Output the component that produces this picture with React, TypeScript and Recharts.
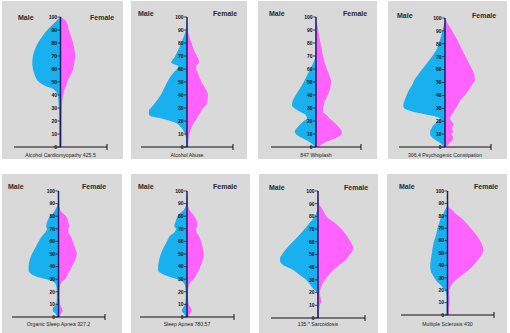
import React from "react"
import { ComposedChart, Area, XAxis, YAxis, ReferenceLine } from "recharts"

const BLUE = "#18B0EE"
const PINK = "#FF62FF"
const AXIS = "#1E2060"
const PANEL_BG = "#D9D9D9"
const SPAN = 140
const ageTicks = [0, 10, 20, 30, 40, 50, 60, 70, 80, 90, 100]

// widths (arbitrary units, full half-width = 140)
const cardioAges = [0, 10, 20, 30, 35, 40, 42, 45, 47, 50, 55, 60, 65, 70, 75, 80, 85, 90, 95, 98, 100]
const cardioMale = [4, 4, 4, 5, 6, 8, 12, 25, 45, 65, 77, 83, 85, 83, 77, 68, 55, 40, 20, 8, 0]
const cardioFemale = [3, 3, 3, 4, 5, 8, 10, 13, 17, 20, 30, 38, 42, 44, 42, 38, 32, 25, 20, 12, 0]

const abuseAges = [0, 5, 10, 15, 19, 22, 24, 26, 28, 30, 33, 40, 45, 50, 55, 58, 62, 65, 69, 74, 80, 85, 90, 95, 100]
const abuseMale = [2, 2, 6, 18, 38, 78, 113, 116, 116, 110, 100, 80, 70, 60, 48, 38, 26, 48, 38, 28, 18, 10, 3, 1, 0]
const abuseFemale = [3, 4, 7, 14, 22, 30, 34, 40, 44, 50, 60, 64, 56, 44, 36, 31, 27, 37, 32, 22, 14, 7, 2, 1, 0]

const whiplashAges = [0, 2, 5, 7, 10, 12, 15, 20, 22, 25, 27, 30, 32, 35, 40, 45, 50, 55, 60, 65, 70, 75, 80, 85, 90, 95, 100]
const whiplashMale = [3, 10, 28, 43, 63, 66, 58, 38, 28, 33, 48, 68, 75, 73, 63, 50, 38, 28, 18, 8, 2, 2, 2, 2, 2, 2, 0]
const whiplashFemale = [7, 17, 42, 62, 80, 80, 72, 52, 42, 32, 22, 22, 24, 27, 37, 44, 47, 42, 34, 27, 22, 18, 14, 10, 7, 3, 0]

const constipAges = [0, 2, 4, 7, 10, 12, 15, 17, 20, 22, 24, 26, 28, 30, 32, 36, 40, 44, 48, 52, 56, 60, 65, 70, 75, 80, 85, 90, 95, 98, 100]
const constipMale = [2, 10, 20, 37, 45, 45, 40, 35, 22, 15, 35, 72, 105, 124, 127, 123, 117, 110, 100, 93, 82, 70, 55, 40, 27, 19, 13, 8, 3, 1, 0]
const constipFemale = [5, 10, 18, 25, 20, 25, 20, 27, 20, 15, 18, 22, 28, 33, 38, 46, 60, 72, 82, 91, 89, 83, 73, 63, 53, 43, 33, 22, 10, 3, 0]

const organicAges = [0, 3, 5, 7, 10, 15, 20, 25, 28, 30, 32, 35, 37, 40, 45, 50, 55, 60, 65, 67, 70, 72, 75, 80, 82, 85, 90, 95, 100]
const organicMale = [3, 10, 17, 17, 7, 5, 5, 7, 15, 35, 65, 85, 90, 90, 87, 80, 70, 60, 47, 40, 35, 37, 35, 25, 18, 10, 2, 1, 0]
const organicFemale = [3, 8, 13, 10, 5, 3, 3, 5, 10, 20, 25, 30, 35, 40, 50, 55, 50, 43, 35, 30, 30, 33, 30, 23, 15, 5, 2, 1, 0]

const apneaAges = [0, 3, 5, 7, 10, 15, 20, 25, 28, 30, 32, 35, 37, 40, 45, 50, 55, 60, 65, 67, 70, 72, 75, 80, 82, 85, 90, 95, 100]
const apneaMale = [3, 10, 16, 13, 6, 4, 4, 6, 13, 28, 53, 78, 86, 86, 83, 78, 70, 60, 48, 38, 33, 38, 35, 28, 23, 10, 2, 1, 0]
const apneaFemale = [4, 9, 14, 12, 5, 3, 3, 5, 11, 20, 25, 30, 35, 40, 47, 50, 47, 42, 34, 29, 27, 30, 30, 22, 17, 7, 2, 1, 0]

const sarcAges = [0, 5, 10, 13, 17, 20, 22, 25, 27, 30, 32, 35, 38, 40, 42, 45, 47, 50, 52, 55, 57, 60, 65, 70, 75, 80, 82, 85, 87, 90, 95, 100]
const sarcMale = [2, 2, 2, 2, 2, 3, 10, 20, 25, 35, 45, 60, 75, 90, 105, 113, 113, 107, 102, 93, 86, 75, 57, 40, 25, 10, 6, 3, 2, 2, 2, 0]
const sarcFemale = [3, 3, 5, 10, 7, 5, 7, 10, 14, 20, 27, 35, 47, 55, 65, 80, 87, 95, 101, 105, 103, 97, 85, 70, 50, 25, 20, 15, 10, 2, 1, 0]

const msAges = [0, 5, 10, 15, 17, 20, 22, 25, 27, 30, 32, 35, 40, 45, 50, 52, 55, 60, 65, 70, 75, 80, 82, 85, 87, 90, 95, 100]
const msMale = [3, 3, 3, 3, 4, 7, 14, 24, 32, 40, 44, 50, 52, 50, 47, 46, 44, 40, 34, 30, 24, 17, 12, 7, 2, 1, 0, 0]
const msFemale = [4, 4, 6, 6, 5, 5, 8, 13, 20, 33, 43, 58, 78, 93, 106, 108, 106, 98, 86, 70, 53, 33, 23, 13, 3, 2, 1, 0]

const titles = [
  "Alcohol Cardiomyopathy 425.5",
  "Alcohol Abuse",
  "847 Whiplash",
  "306.4 Psychogenic Constipation",
  "Organic Sleep Apnea  327.2",
  "Sleep Apnea 780.57",
  "135.* Sarcoidosis",
  "Multiple Sclerosis 430",
]

// panel boxes and plot area inside each one
const layouts = [
  { x: 2, y: 1, w: 121, h: 158, l: 12, r: 105, t: 16, b: 146, maleX: 16, femaleX: 88, labelY: 16, titleY: 154 },
  { x: 131, y: 1, w: 116, h: 158, l: 10, r: 102, t: 16, b: 146, maleX: 7, femaleX: 82, labelY: 12, titleY: 154 },
  { x: 258, y: 1, w: 119, h: 158, l: 13, r: 103, t: 16, b: 146, maleX: 11, femaleX: 85, labelY: 12, titleY: 154 },
  { x: 388, y: 1, w: 119, h: 158, l: 11, r: 103, t: 17, b: 146, maleX: 9, femaleX: 84, labelY: 14, titleY: 154 },
  { x: 2, y: 174, w: 120, h: 159, l: 10, r: 103, t: 17, b: 143, maleX: 6, femaleX: 80, labelY: 12, titleY: 150 },
  { x: 131, y: 174, w: 119, h: 159, l: 9, r: 103, t: 17, b: 143, maleX: 7, femaleX: 82, labelY: 12, titleY: 150 },
  { x: 259, y: 174, w: 119, h: 159, l: 12, r: 106, t: 17, b: 144, maleX: 10, femaleX: 85, labelY: 13, titleY: 150 },
  { x: 387, y: 174, w: 120, h: 159, l: 14, r: 107, t: 17, b: 141, maleX: 12, femaleX: 87, labelY: 12, titleY: 150 },
]

const series = [
  { ages: cardioAges, male: cardioMale, female: cardioFemale },
  { ages: abuseAges, male: abuseMale, female: abuseFemale },
  { ages: whiplashAges, male: whiplashMale, female: whiplashFemale },
  { ages: constipAges, male: constipMale, female: constipFemale },
  { ages: organicAges, male: organicMale, female: organicFemale },
  { ages: apneaAges, male: apneaMale, female: apneaFemale },
  { ages: sarcAges, male: sarcMale, female: sarcFemale },
  { ages: msAges, male: msMale, female: msFemale },
]

const LABEL_FONT = "'Liberation Sans', Arial, sans-serif"

// eslint-disable-next-line @typescript-eslint/no-explicit-any
function CapTick({ x, y }: any) {
  return <line x1={x} x2={x} y1={y - 3} y2={y + 3} stroke="#111" strokeWidth={1} />
}

function Panel({ idx }: { idx: number }) {
  const lay = layouts[idx]
  const s = series[idx]
  const rows = s.ages.map((age, i) => ({ age, male: -s.male[i], female: s.female[i] }))
  const axisH = 1
  const axisW = 1
  const cx = lay.l + (lay.r - lay.l) / 2

  // eslint-disable-next-line @typescript-eslint/no-explicit-any
  const ageTick = ({ y, payload }: any) => (
    <g>
      <line x1={cx - 3} x2={cx} y1={y} y2={y} stroke={AXIS} strokeWidth={0.8} />
      <text
        x={cx - 3.5}
        y={y}
        dy={1.8}
        textAnchor="end"
        fontSize={5}
        fontWeight={700}
        fontFamily={LABEL_FONT}
        fill="#111"
      >
        {payload.value}
      </text>
    </g>
  )

  return (
    <div
      style={{
        position: "absolute",
        left: lay.x,
        top: lay.y,
        width: lay.w,
        height: lay.h,
        background: PANEL_BG,
      }}
    >
      <ComposedChart
        width={lay.w}
        height={lay.h}
        data={rows}
        layout="vertical"
        margin={{ left: lay.l - axisW, right: lay.w - lay.r, top: lay.t, bottom: lay.h - lay.b - axisH }}
      >
        <Area
          dataKey="male"
          type="monotone"
          fill={BLUE}
          fillOpacity={1}
          stroke="none"
          isAnimationActive={false}
        />
        <Area
          dataKey="female"
          type="monotone"
          fill={PINK}
          fillOpacity={1}
          stroke="none"
          isAnimationActive={false}
        />
        <XAxis
          type="number"
          domain={[-SPAN, SPAN]}
          ticks={[-SPAN, SPAN]}
          height={axisH}
          tickLine={false}
          tickSize={0}
          tickMargin={0}
          axisLine={{ stroke: "#111", strokeWidth: 1 }}
          tick={<CapTick />}
        />
        <YAxis
          type="number"
          dataKey="age"
          domain={[0, 100]}
          ticks={ageTicks}
          interval={0}
          reversed
          width={axisW}
          axisLine={false}
          tickLine={false}
          tickSize={0}
          tickMargin={0}
          tick={ageTick}
        />
        <ReferenceLine x={0} stroke={AXIS} strokeWidth={1.5} />
      </ComposedChart>
      <svg
        width={lay.w}
        height={lay.h}
        style={{ position: "absolute", left: 0, top: 0, pointerEvents: "none" }}
      >
        <text x={lay.maleX} y={lay.labelY} dy={2.5} fontSize={7} fontWeight={700} fontFamily={LABEL_FONT} fill="#2a2a2a">
          Male
        </text>
        <text x={lay.femaleX} y={lay.labelY} dy={2.5} fontSize={7} fontWeight={700} fontFamily={LABEL_FONT} fill="#2a2a2a">
          Female
        </text>
        <text x={cx} y={lay.titleY} dy={2} textAnchor="middle" fontSize={5.2} fontFamily={LABEL_FONT} fill="#222">
          {titles[idx]}
        </text>
      </svg>
    </div>
  )
}

export default function App() {
  return (
    <div style={{ position: "absolute", left: 0, top: 0, width: 510, height: 333, background: "#fff" }}>
      {layouts.map((_, i) => (
        <Panel key={i} idx={i} />
      ))}
    </div>
  )
}
